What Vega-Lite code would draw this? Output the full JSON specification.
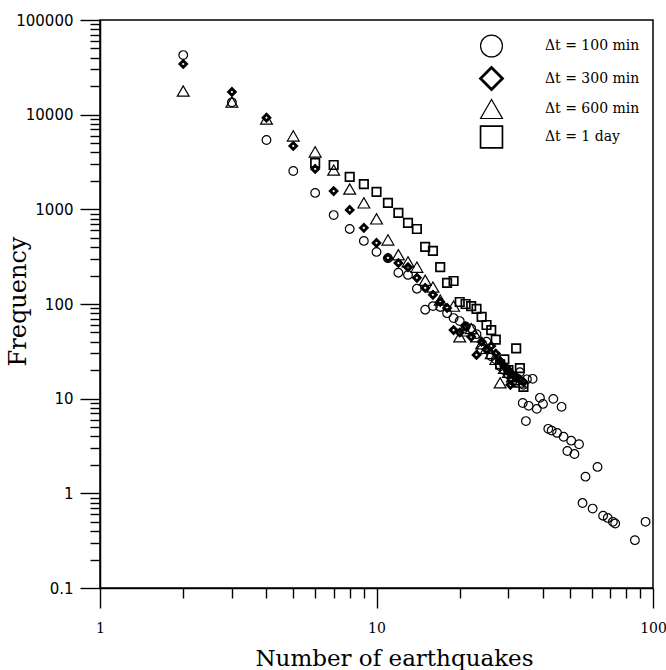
{
  "$schema": "https://vega.github.io/schema/vega-lite/v6.json",
  "width": 553,
  "height": 568,
  "autosize": {"type": "none"},
  "padding": {"left": 100, "top": 20, "right": 13, "bottom": 82},
  "background": "white",
  "config": {"view": {"stroke": "black", "strokeWidth": 1.5}, "axis": {"grid": false}},
  "datasets": {
    "pts": [
      {"n": 2, "f": 42600, "s": "Δt = 100 min"},
      {"n": 3, "f": 13500, "s": "Δt = 100 min"},
      {"n": 4, "f": 5400, "s": "Δt = 100 min"},
      {"n": 5, "f": 2540, "s": "Δt = 100 min"},
      {"n": 6, "f": 1490, "s": "Δt = 100 min"},
      {"n": 7, "f": 870, "s": "Δt = 100 min"},
      {"n": 8, "f": 620, "s": "Δt = 100 min"},
      {"n": 9, "f": 464, "s": "Δt = 100 min"},
      {"n": 10, "f": 355, "s": "Δt = 100 min"},
      {"n": 11, "f": 305, "s": "Δt = 100 min"},
      {"n": 12, "f": 214, "s": "Δt = 100 min"},
      {"n": 13, "f": 203, "s": "Δt = 100 min"},
      {"n": 14, "f": 145, "s": "Δt = 100 min"},
      {"n": 15, "f": 87, "s": "Δt = 100 min"},
      {"n": 16, "f": 95, "s": "Δt = 100 min"},
      {"n": 17, "f": 93, "s": "Δt = 100 min"},
      {"n": 18, "f": 80, "s": "Δt = 100 min"},
      {"n": 19, "f": 71, "s": "Δt = 100 min"},
      {"n": 20, "f": 66, "s": "Δt = 100 min"},
      {"n": 21, "f": 58, "s": "Δt = 100 min"},
      {"n": 22, "f": 55, "s": "Δt = 100 min"},
      {"n": 23, "f": 48, "s": "Δt = 100 min"},
      {"n": 24, "f": 33, "s": "Δt = 100 min"},
      {"n": 25, "f": 40, "s": "Δt = 100 min"},
      {"n": 26, "f": 28, "s": "Δt = 100 min"},
      {"n": 27, "f": 26, "s": "Δt = 100 min"},
      {"n": 28, "f": 22, "s": "Δt = 100 min"},
      {"n": 29, "f": 20, "s": "Δt = 100 min"},
      {"n": 30, "f": 18, "s": "Δt = 100 min"},
      {"n": 31, "f": 17, "s": "Δt = 100 min"},
      {"n": 32, "f": 15, "s": "Δt = 100 min"},
      {"n": 33, "f": 19, "s": "Δt = 100 min"},
      {"n": 34, "f": 14, "s": "Δt = 100 min"},
      {"n": 35, "f": 16, "s": "Δt = 100 min"},
      {"n": 36.7, "f": 16.2, "s": "Δt = 100 min"},
      {"n": 33.8, "f": 9.0, "s": "Δt = 100 min"},
      {"n": 35.5, "f": 8.4, "s": "Δt = 100 min"},
      {"n": 38, "f": 7.8, "s": "Δt = 100 min"},
      {"n": 39, "f": 10.2, "s": "Δt = 100 min"},
      {"n": 40, "f": 8.8, "s": "Δt = 100 min"},
      {"n": 43.6, "f": 9.95, "s": "Δt = 100 min"},
      {"n": 46.7, "f": 8.2, "s": "Δt = 100 min"},
      {"n": 34.7, "f": 5.8, "s": "Δt = 100 min"},
      {"n": 41.8, "f": 4.8, "s": "Δt = 100 min"},
      {"n": 43, "f": 4.6, "s": "Δt = 100 min"},
      {"n": 45, "f": 4.35, "s": "Δt = 100 min"},
      {"n": 47.5, "f": 3.96, "s": "Δt = 100 min"},
      {"n": 50.6, "f": 3.6, "s": "Δt = 100 min"},
      {"n": 54, "f": 3.3, "s": "Δt = 100 min"},
      {"n": 49, "f": 2.8, "s": "Δt = 100 min"},
      {"n": 52, "f": 2.6, "s": "Δt = 100 min"},
      {"n": 63, "f": 1.9, "s": "Δt = 100 min"},
      {"n": 57, "f": 1.5, "s": "Δt = 100 min"},
      {"n": 55.6, "f": 0.79, "s": "Δt = 100 min"},
      {"n": 60.5, "f": 0.69, "s": "Δt = 100 min"},
      {"n": 66, "f": 0.58, "s": "Δt = 100 min"},
      {"n": 68.6, "f": 0.55, "s": "Δt = 100 min"},
      {"n": 71.6, "f": 0.5, "s": "Δt = 100 min"},
      {"n": 73, "f": 0.48, "s": "Δt = 100 min"},
      {"n": 86, "f": 0.32, "s": "Δt = 100 min"},
      {"n": 94, "f": 0.5, "s": "Δt = 100 min"},

      {"n": 2, "f": 34300, "s": "Δt = 300 min"},
      {"n": 3, "f": 17400, "s": "Δt = 300 min"},
      {"n": 4, "f": 9300, "s": "Δt = 300 min"},
      {"n": 5, "f": 4670, "s": "Δt = 300 min"},
      {"n": 6, "f": 2670, "s": "Δt = 300 min"},
      {"n": 7, "f": 1560, "s": "Δt = 300 min"},
      {"n": 8, "f": 986, "s": "Δt = 300 min"},
      {"n": 9, "f": 637, "s": "Δt = 300 min"},
      {"n": 10, "f": 442, "s": "Δt = 300 min"},
      {"n": 11, "f": 307, "s": "Δt = 300 min"},
      {"n": 12, "f": 271, "s": "Δt = 300 min"},
      {"n": 13, "f": 245, "s": "Δt = 300 min"},
      {"n": 14, "f": 189, "s": "Δt = 300 min"},
      {"n": 15, "f": 148, "s": "Δt = 300 min"},
      {"n": 16, "f": 125, "s": "Δt = 300 min"},
      {"n": 17, "f": 105, "s": "Δt = 300 min"},
      {"n": 18, "f": 91, "s": "Δt = 300 min"},
      {"n": 19, "f": 53, "s": "Δt = 300 min"},
      {"n": 20, "f": 50, "s": "Δt = 300 min"},
      {"n": 21, "f": 58, "s": "Δt = 300 min"},
      {"n": 22, "f": 45, "s": "Δt = 300 min"},
      {"n": 23, "f": 29, "s": "Δt = 300 min"},
      {"n": 24, "f": 40, "s": "Δt = 300 min"},
      {"n": 25, "f": 33, "s": "Δt = 300 min"},
      {"n": 26, "f": 36, "s": "Δt = 300 min"},
      {"n": 27, "f": 30, "s": "Δt = 300 min"},
      {"n": 28, "f": 25, "s": "Δt = 300 min"},
      {"n": 29, "f": 22, "s": "Δt = 300 min"},
      {"n": 30, "f": 20, "s": "Δt = 300 min"},
      {"n": 31, "f": 18, "s": "Δt = 300 min"},
      {"n": 32, "f": 17, "s": "Δt = 300 min"},
      {"n": 33, "f": 16, "s": "Δt = 300 min"},
      {"n": 34, "f": 15, "s": "Δt = 300 min"},
      {"n": 30.5, "f": 14, "s": "Δt = 300 min"},

      {"n": 2, "f": 17800, "s": "Δt = 600 min"},
      {"n": 3, "f": 13600, "s": "Δt = 600 min"},
      {"n": 4, "f": 9000, "s": "Δt = 600 min"},
      {"n": 5, "f": 5960, "s": "Δt = 600 min"},
      {"n": 6, "f": 4040, "s": "Δt = 600 min"},
      {"n": 7, "f": 2600, "s": "Δt = 600 min"},
      {"n": 8, "f": 1640, "s": "Δt = 600 min"},
      {"n": 9, "f": 1170, "s": "Δt = 600 min"},
      {"n": 10, "f": 793, "s": "Δt = 600 min"},
      {"n": 11, "f": 475, "s": "Δt = 600 min"},
      {"n": 12, "f": 331, "s": "Δt = 600 min"},
      {"n": 13, "f": 279, "s": "Δt = 600 min"},
      {"n": 14, "f": 245, "s": "Δt = 600 min"},
      {"n": 15, "f": 178, "s": "Δt = 600 min"},
      {"n": 16, "f": 151, "s": "Δt = 600 min"},
      {"n": 17, "f": 110, "s": "Δt = 600 min"},
      {"n": 19, "f": 95, "s": "Δt = 600 min"},
      {"n": 20, "f": 45, "s": "Δt = 600 min"},
      {"n": 21, "f": 52, "s": "Δt = 600 min"},
      {"n": 22, "f": 55, "s": "Δt = 600 min"},
      {"n": 23, "f": 45, "s": "Δt = 600 min"},
      {"n": 24, "f": 38, "s": "Δt = 600 min"},
      {"n": 25, "f": 34, "s": "Δt = 600 min"},
      {"n": 26, "f": 30, "s": "Δt = 600 min"},
      {"n": 27, "f": 26, "s": "Δt = 600 min"},
      {"n": 28, "f": 14.7, "s": "Δt = 600 min"},
      {"n": 29, "f": 21, "s": "Δt = 600 min"},
      {"n": 30, "f": 19, "s": "Δt = 600 min"},
      {"n": 31, "f": 17, "s": "Δt = 600 min"},
      {"n": 32, "f": 16, "s": "Δt = 600 min"},
      {"n": 33, "f": 15, "s": "Δt = 600 min"},

      {"n": 6, "f": 3090, "s": "Δt = 1 day"},
      {"n": 7, "f": 2940, "s": "Δt = 1 day"},
      {"n": 8, "f": 2200, "s": "Δt = 1 day"},
      {"n": 9, "f": 1850, "s": "Δt = 1 day"},
      {"n": 10, "f": 1530, "s": "Δt = 1 day"},
      {"n": 11, "f": 1170, "s": "Δt = 1 day"},
      {"n": 12, "f": 916, "s": "Δt = 1 day"},
      {"n": 13, "f": 718, "s": "Δt = 1 day"},
      {"n": 14, "f": 620, "s": "Δt = 1 day"},
      {"n": 15, "f": 401, "s": "Δt = 1 day"},
      {"n": 16, "f": 364, "s": "Δt = 1 day"},
      {"n": 17, "f": 245, "s": "Δt = 1 day"},
      {"n": 18, "f": 167, "s": "Δt = 1 day"},
      {"n": 19, "f": 175, "s": "Δt = 1 day"},
      {"n": 20, "f": 105, "s": "Δt = 1 day"},
      {"n": 21, "f": 100, "s": "Δt = 1 day"},
      {"n": 22, "f": 95, "s": "Δt = 1 day"},
      {"n": 23, "f": 89, "s": "Δt = 1 day"},
      {"n": 24, "f": 73, "s": "Δt = 1 day"},
      {"n": 25, "f": 60, "s": "Δt = 1 day"},
      {"n": 26, "f": 53, "s": "Δt = 1 day"},
      {"n": 27, "f": 42, "s": "Δt = 1 day"},
      {"n": 28, "f": 23, "s": "Δt = 1 day"},
      {"n": 29, "f": 26, "s": "Δt = 1 day"},
      {"n": 30, "f": 20, "s": "Δt = 1 day"},
      {"n": 31, "f": 17, "s": "Δt = 1 day"},
      {"n": 32, "f": 34, "s": "Δt = 1 day"},
      {"n": 33, "f": 21, "s": "Δt = 1 day"},
      {"n": 34, "f": 13.3, "s": "Δt = 1 day"}
    ]
  },
  "data": {"name": "pts"},
  "mark": {"type": "point", "filled": false, "color": "black", "opacity": 1},
  "encoding": {
    "x": {
      "field": "n", "type": "quantitative",
      "scale": {"type": "log", "domain": [1, 100], "nice": false},
      "axis": {
        "orient": "bottom",
        "values": [1, 2, 3, 4, 5, 6, 7, 8, 9, 10, 20, 30, 40, 50, 60, 70, 80, 90, 100],
        "format": "~g",
        "labelExpr": "abs(log(datum.value) / LN10 - round(log(datum.value) / LN10)) < 0.001 ? datum.label : ''",
        "tickSize": {"condition": {"test": "abs(log(datum.value) / LN10 - round(log(datum.value) / LN10)) < 0.001", "value": 20}, "value": 10},
        "tickWidth": 1.4, "tickColor": "black",
        "domainColor": "black", "domainWidth": 1.5,
        "labelFont": "DejaVu Serif", "labelFontSize": 14, "labelColor": "black",
        "labelPadding": 13, "labelFlush": false, "labelOverlap": false, "labelBound": false,
        "title": "Number of earthquakes",
        "titleFont": "DejaVu Serif", "titleFontSize": 23, "titleFontWeight": "normal", "titleColor": "black",
        "titleX": 294, "titleY": 70, "titleBaseline": "middle", "titleAlign": "center"
      }
    },
    "y": {
      "field": "f", "type": "quantitative",
      "scale": {"type": "log", "domain": [0.1, 100000], "nice": false},
      "axis": {
        "orient": "left",
        "values": [0.1, 0.2, 0.3, 0.4, 0.5, 0.6, 0.7, 0.8, 0.9, 1, 2, 3, 4, 5, 6, 7, 8, 9, 10, 20, 30, 40, 50, 60, 70, 80, 90, 100, 200, 300, 400, 500, 600, 700, 800, 900, 1000, 2000, 3000, 4000, 5000, 6000, 7000, 8000, 9000, 10000, 20000, 30000, 40000, 50000, 60000, 70000, 80000, 90000, 100000],
        "format": "~g",
        "labelExpr": "abs(log(datum.value) / LN10 - round(log(datum.value) / LN10)) < 0.001 ? datum.label : ''",
        "tickSize": {"condition": {"test": "abs(log(datum.value) / LN10 - round(log(datum.value) / LN10)) < 0.001", "value": 20}, "value": 10},
        "tickWidth": 1.4, "tickColor": "black",
        "domainColor": "black", "domainWidth": 1.5,
        "labelFont": "DejaVu Sans", "labelFontSize": 15, "labelColor": "black",
        "labelPadding": 7, "labelOverlap": false, "labelBound": false, "labelFlush": false,
        "title": "Frequency",
        "titleFont": "DejaVu Serif", "titleFontSize": 24, "titleFontWeight": "normal", "titleColor": "black",
        "titleX": -82, "titleY": 281, "titleAngle": 270, "titleBaseline": "middle", "titleAlign": "center"
      }
    },
    "shape": {
      "field": "s", "type": "nominal",
      "scale": {"domain": ["Δt = 100 min", "Δt = 300 min", "Δt = 600 min", "Δt = 1 day"], "range": ["circle", "diamond", "triangle-up", "square"]},
      "legend": {
        "title": null, "orient": "none", "legendX": 379, "legendY": 14, "padding": 0,
        "symbolSize": 480, "rowPadding": 1,
        "labelFont": "DejaVu Serif", "labelFontSize": 14, "labelColor": "black", "labelOffset": 41,
        "symbolStrokeColor": "black", "symbolFillColor": "transparent",
        "encode": {
          "symbols": {
            "size": {
              "condition": [
                {"test": "datum.value === 'Δt = 100 min'", "value": 484},
                {"test": "datum.value === 'Δt = 300 min'", "value": 300},
                {"test": "datum.value === 'Δt = 600 min'", "value": 560}
              ],
              "value": 441
            },
            "stroke": {"value": "black"},
            "fill": {"value": "transparent"},
            "opacity": {"value": 1}
          }
        }
      }
    },
    "size": {
      "condition": [
        {"test": "datum.s === 'Δt = 300 min'", "value": 45},
        {"test": "datum.s === 'Δt = 600 min'", "value": 140},
        {"test": "datum.s === 'Δt = 1 day'", "value": 72}
      ],
      "value": 75
    },
    "strokeWidth": {
      "field": "s", "type": "nominal",
      "scale": {"type": "ordinal", "domain": ["Δt = 100 min", "Δt = 300 min", "Δt = 600 min", "Δt = 1 day"], "range": [1.2, 2.8, 1.2, 1.7]}
    }
  }
}
